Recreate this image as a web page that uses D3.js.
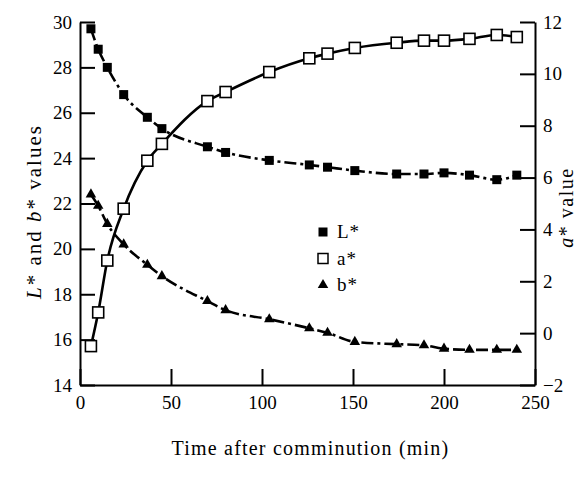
<!DOCTYPE html>
<html>
<head>
<meta charset="utf-8">
<script src="https://cdn.jsdelivr.net/npm/d3@7"></script>
<style>
  body { margin: 0; background: #fff; }
  text { font-family: 'Liberation Serif', 'DejaVu Serif', serif; }
</style>
</head>
<body>
<script>
// minutes after comminution
const times = [6, 10, 15, 24, 37, 45, 70, 80, 104, 126, 136, 151, 174, 189, 200, 214, 229, 240];
const lStar = [29.7, 28.8, 28.0, 26.8, 25.8, 25.3, 24.5, 24.25, 23.9, 23.7, 23.6, 23.45, 23.3, 23.3, 23.35, 23.25, 23.05, 23.25];
const aStar = [-0.5, 0.8, 2.8, 4.8, 6.65, 7.3, 8.95, 9.3, 10.07, 10.6, 10.78, 11.0, 11.2, 11.28, 11.28, 11.35, 11.5, 11.42];
const bStar = [22.4, 21.9, 21.1, 20.2, 19.3, 18.8, 17.7, 17.3, 16.9, 16.5, 16.3, 15.9, 15.8, 15.75, 15.6, 15.55, 15.55, 15.55];

const xTicks = [0, 50, 100, 150, 200, 250];
const leftTicks = [14, 16, 18, 20, 22, 24, 26, 28, 30];
const rightTicks = [-2, 0, 2, 4, 6, 8, 10, 12];
const legendItems = ['L*', 'a*', 'b*'];

const width = 587,
  height = 478;
const mLeft = 80, mRight = 535, mTop = 22, mBottom = 385;

const svg = d3
  .select('body')
  .append('svg')
  .attr('width', width)
  .attr('height', height);

const x = d3.scaleLinear().domain([0, 250]).range([mLeft, mRight]);
const yL = d3.scaleLinear().domain([14, 30]).range([mBottom, mTop]);
const yR = d3.scaleLinear().domain([-2, 12]).range([mBottom, mTop]);

function styleAxis(g) {
  g.selectAll('path, line').attr('stroke', '#000').attr('stroke-width', 2);
  g.selectAll('text').attr('font-size', 19).attr('fill', '#000')
    .attr('font-family', "'Liberation Serif', serif");
}

svg.append('g')
  .attr('transform', `translate(0,${mBottom})`)
  .call(d3.axisBottom(x).tickValues(xTicks).tickSize(-16).tickSizeOuter(0).tickPadding(11))
  .call(styleAxis);

svg.append('g')
  .attr('transform', `translate(${mLeft},0)`)
  .call(d3.axisLeft(yL).tickValues(leftTicks).tickSize(-15).tickSizeOuter(0).tickPadding(8))
  .call(styleAxis);

svg.append('g')
  .attr('transform', `translate(${mRight},0)`)
  .call(d3.axisRight(yR).tickValues(rightTicks).tickSize(-15).tickSizeOuter(0).tickPadding(8))
  .call(styleAxis);

const curve = d3.curveMonotoneX;

const lineL = d3.line().x((d, i) => x(times[i])).y(d => yL(d)).curve(curve);
const lineA = d3.line().x((d, i) => x(times[i])).y(d => yR(d)).curve(curve);

svg.append('path').datum(lStar).attr('d', lineL)
  .attr('fill', 'none').attr('stroke', '#000').attr('stroke-width', 2.6)
  .attr('stroke-dasharray', '12,4,3,4');
svg.append('path').datum(bStar).attr('d', lineL)
  .attr('fill', 'none').attr('stroke', '#000').attr('stroke-width', 2.6)
  .attr('stroke-dasharray', '12,4,3,4');
svg.append('path').datum(aStar).attr('d', lineA)
  .attr('fill', 'none').attr('stroke', '#000').attr('stroke-width', 2.6);

// markers
svg.append('g').selectAll('rect').data(lStar).enter().append('rect')
  .attr('x', (d, i) => x(times[i]) - 4.5).attr('y', d => yL(d) - 4.5)
  .attr('width', 9).attr('height', 9).attr('fill', '#000');

svg.append('g').selectAll('rect').data(aStar).enter().append('rect')
  .attr('x', (d, i) => x(times[i]) - 5.5).attr('y', d => yR(d) - 5.5)
  .attr('width', 11).attr('height', 11)
  .attr('fill', '#fff').attr('stroke', '#000').attr('stroke-width', 1.6);

const tri = d3.symbol().type(d3.symbolTriangle).size(48);
svg.append('g').selectAll('path').data(bStar).enter().append('path')
  .attr('d', tri)
  .attr('transform', (d, i) => `translate(${x(times[i])},${yL(d)})`)
  .attr('fill', '#000');

// legend
const leg = svg.append('g').attr('transform', 'translate(323,232)');
legendItems.forEach((name, i) => {
  const g = leg.append('g').attr('transform', `translate(0,${i * 26.5})`);
  if (i === 0) g.append('rect').attr('x', -4.5).attr('y', -4.5).attr('width', 9).attr('height', 9).attr('fill', '#000');
  if (i === 1) g.append('rect').attr('x', -5).attr('y', -5).attr('width', 10).attr('height', 10)
    .attr('fill', '#fff').attr('stroke', '#000').attr('stroke-width', 1.5);
  if (i === 2) g.append('path').attr('d', tri).attr('fill', '#000');
  g.append('text').attr('x', 14).attr('y', 6).attr('font-size', 19)
    .attr('letter-spacing', 1).text(name);
});

// axis titles
svg.append('text')
  .attr('x', (mLeft + mRight) / 2 + 3).attr('y', 455)
  .attr('text-anchor', 'middle').attr('font-size', 20).attr('letter-spacing', 1.2)
  .text('Time after comminution (min)');

const lt = svg.append('text')
  .attr('transform', `translate(41,${(mTop + mBottom) / 2 + 8}) rotate(-90)`)
  .attr('text-anchor', 'middle').attr('font-size', 21).attr('letter-spacing', 2);
lt.append('tspan').attr('font-style', 'italic').text('L');
lt.append('tspan').text('* and ');
lt.append('tspan').attr('font-style', 'italic').text('b');
lt.append('tspan').text('* values');

const rt = svg.append('text')
  .attr('transform', `translate(573,${(mTop + mBottom) / 2 + 4}) rotate(-90)`)
  .attr('text-anchor', 'middle').attr('font-size', 20).attr('letter-spacing', 1.5);
rt.append('tspan').attr('font-style', 'italic').text('a');
rt.append('tspan').text('* value');
</script>
</body>
</html>
